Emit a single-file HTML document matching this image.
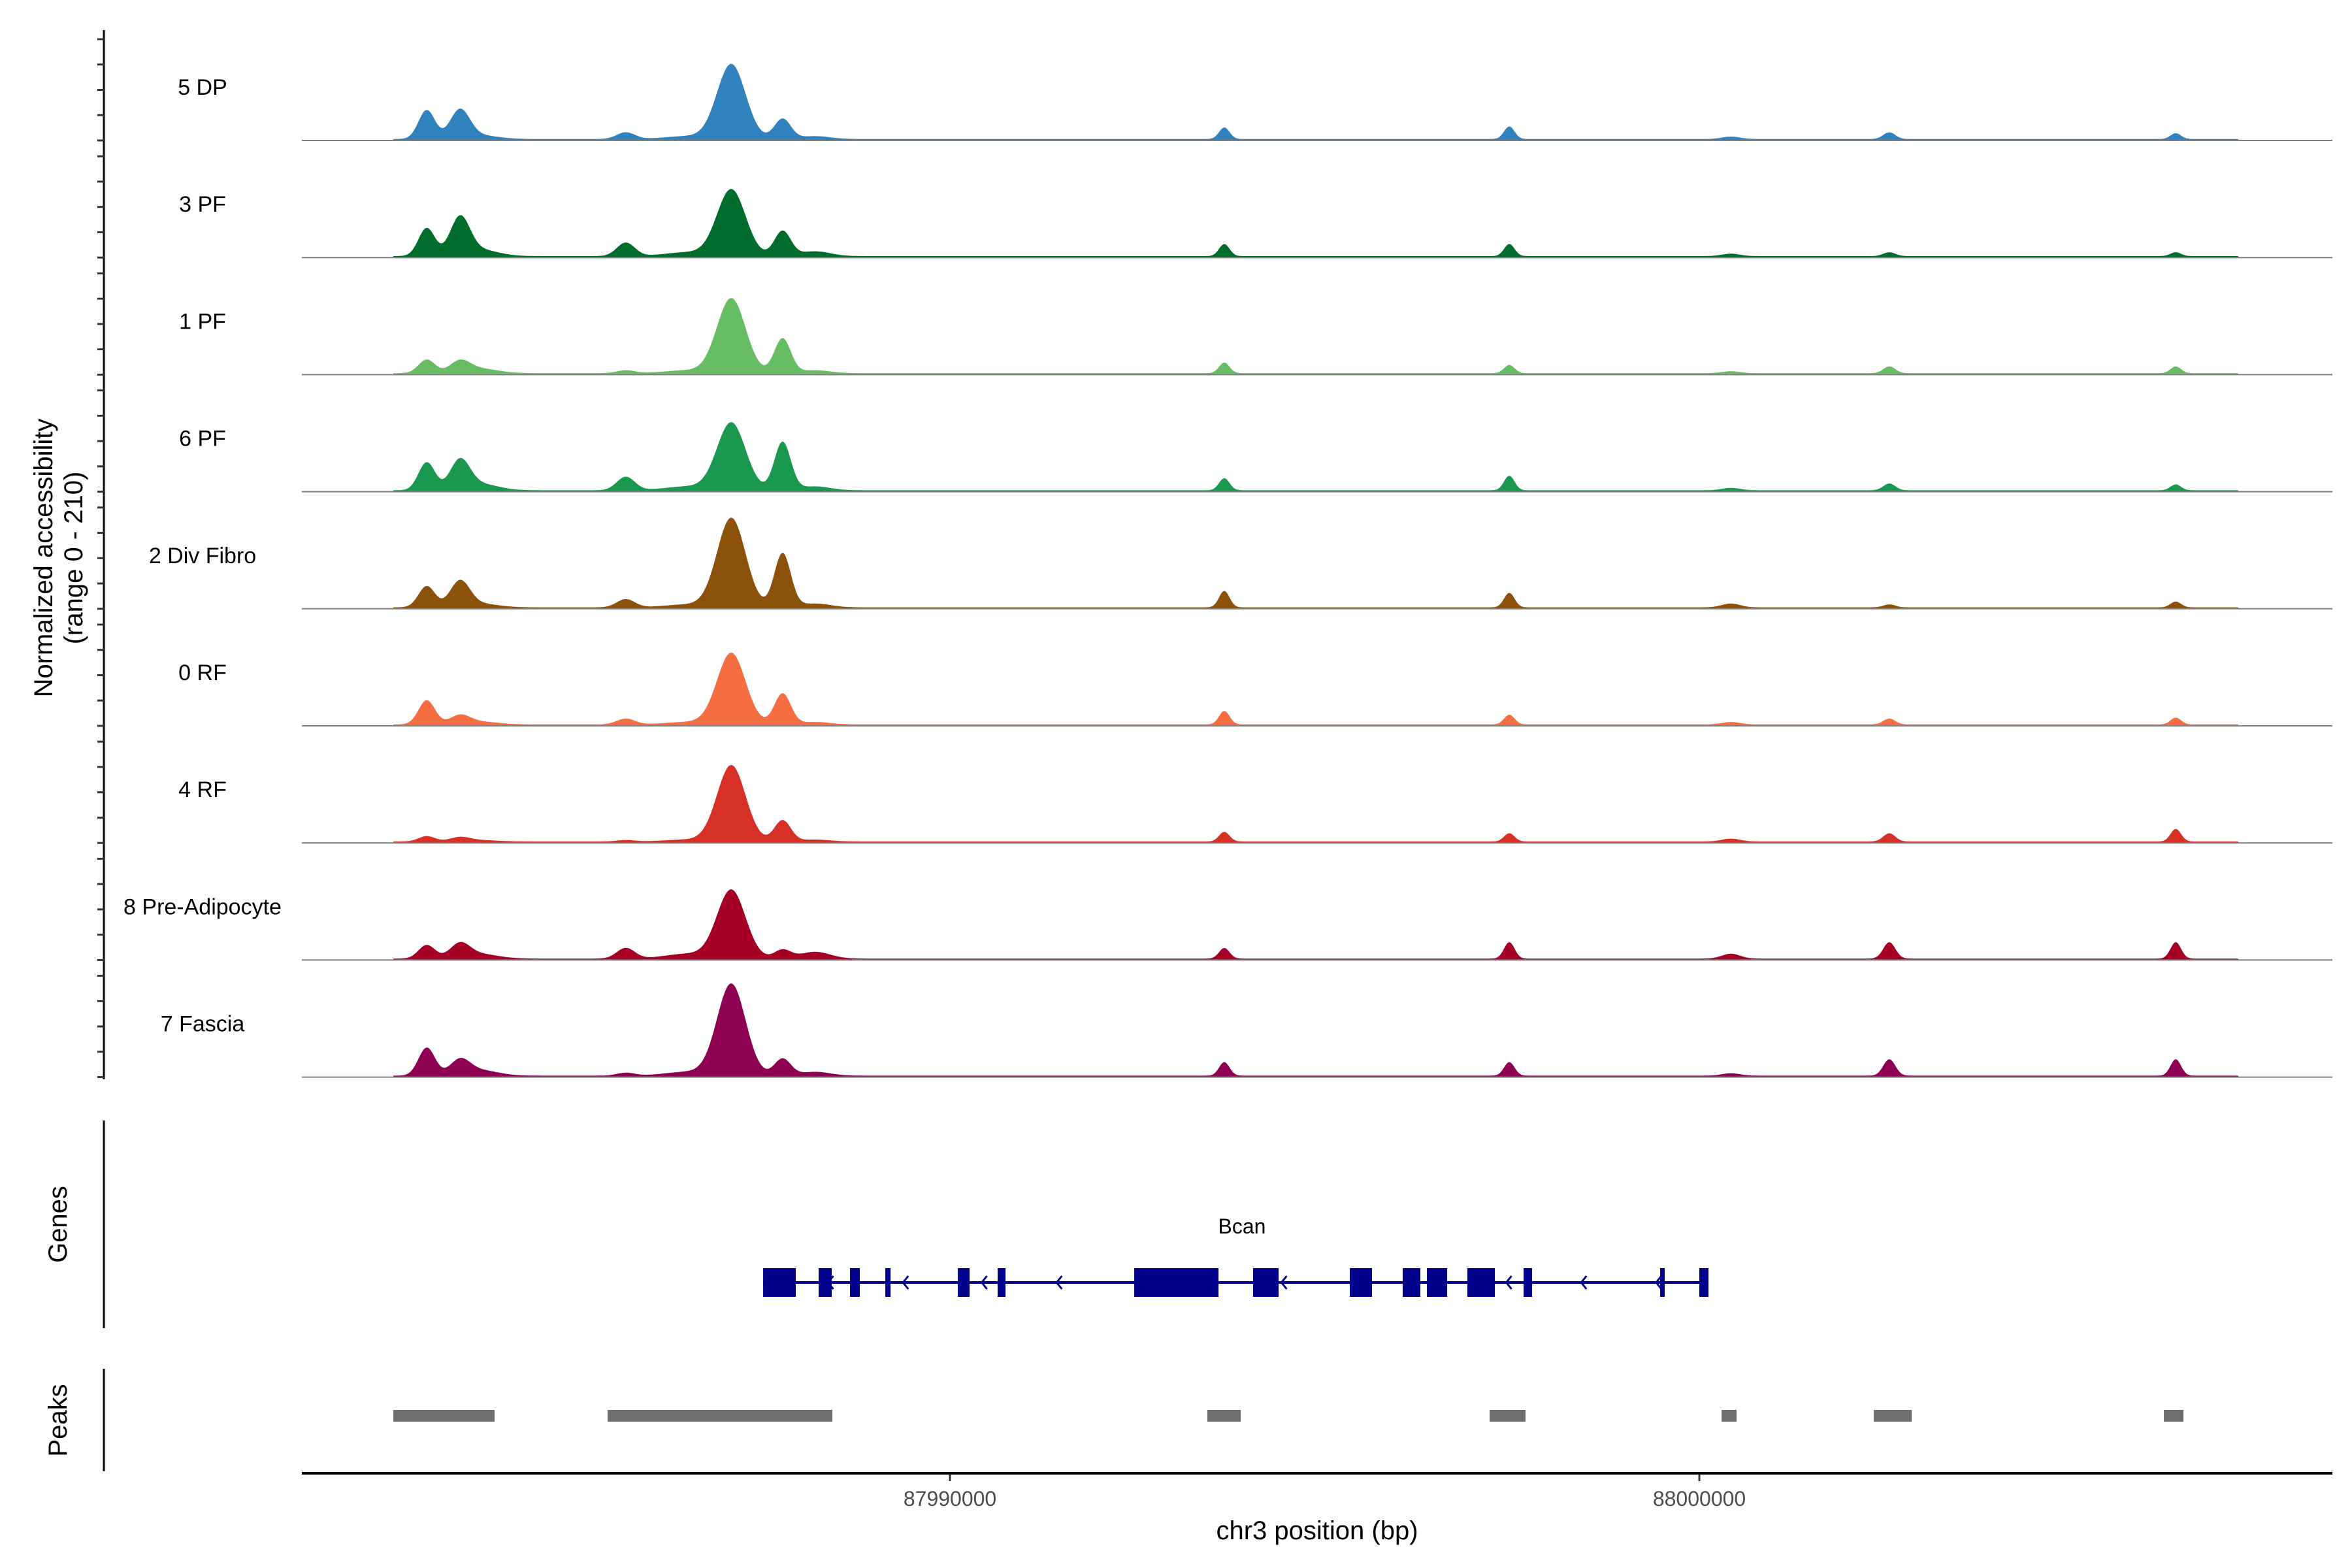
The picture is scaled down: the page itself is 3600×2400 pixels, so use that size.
<!DOCTYPE html>
<html><head><meta charset="utf-8"><style>
html,body{margin:0;padding:0;background:#fff}
svg{display:block}
text{font-family:"Liberation Sans",sans-serif}
</style></head><body>
<svg id="c" width="3600" height="2400" viewBox="0 0 3600 2400" xmlns="http://www.w3.org/2000/svg"></svg>
<script>
const trackNames=["5 DP","3 PF","1 PF","6 PF","2 Div Fibro","0 RF","4 RF","8 Pre-Adipocyte","7 Fascia"];
const trackColors=["#3182bd","#006d2c","#66bd63","#1a9850","#8c510a","#f46d43","#d73027","#a50026","#8e0152"];
const peakCenters=[87983018,87983461,87985674,87987082,87987766,87993661,87997464,88000422,88002535,88006358,87983700,87986500,87988200];
const peakSigmas=[110,130,120,190,110,70,70,120,80,70,250,300,200];
const hDP=[60,58,14,155,42,24,26,5,14,12,8,6,6];
const h3PF=[58,76,28,138,52,25,25,5,8,8,14,8,10];
const h1PF=[28,22,6,155,72,22,17,4,14,14,10,6,6];
const h6PF=[58,58,28,140,100,25,30,5,14,12,14,8,8];
const hDiv=[44,52,17,185,112,34,30,8,6,12,8,6,8];
const h0RF=[50,17,12,148,64,28,20,5,12,14,6,5,5];
const h4RF=[11,8,3,158,44,20,17,6,17,26,3,4,4];
const hPre=[28,28,22,142,18,22,34,10,34,34,10,10,14];
const hFascia=[58,29,6,190,35,28,28,5,34,34,12,8,8];
const trackHeights=[hDP,h3PF,h1PF,h6PF,hDiv,h0RF,h4RF,hPre,hFascia];
const signalStart=87982572, signalEnd=88007201, baseLevel=3;
const exonStarts=[87987507,87988248,87988666,87989137,87990105,87990636,87992459,87994045,87995336,87996042,87996364,87996905,87997655,87999477,88000000];
const exonEnds=[87987942,87988422,87988797,87989207,87990262,87990741,87993583,87994385,87995632,87996277,87996635,87997271,87997768,87999538,88000122];
const arrowPos=[87988400,87989400,87990450,87991450,87994450,87997450,87998450,87999450];
const peakStarts=[87982572,87985432,87993435,87997201,88000297,88002328,88006199];
const peakEnds=[87983923,87988431,87993880,87997681,88000497,88002834,88006460];
const xTicks=[87990000,88000000];
const yMax=210;

const NS="http://www.w3.org/2000/svg";
const svg=document.getElementById('c');
function mk(tag,attrs,parent){const e=document.createElementNS(NS,tag);for(const k in attrs)e.setAttribute(k,attrs[k]);(parent||svg).appendChild(e);return e;}
const X0=462,X1=3570,bp0=87981351,bp1=88008448;
const xs=b=>X0+(b-bp0)/(bp1-bp0)*(X1-X0);
const base0=215,step=179.2,panelH=155;

let ax=mk('line',{x1:159,y1:46,x2:159,y2:1652,stroke:'#000','stroke-width':3});


for(let t=0;t<trackNames.length;t++){
  const by=base0+t*step;
  for(let k=0;k<5;k++){
    const tk=mk('line',{x1:149,x2:159,y1:by-k*panelH/4,y2:by-k*panelH/4,stroke:'#333','stroke-width':3});
    
    
  }
  const hs=trackHeights[t];
  let d='M'+xs(signalStart)+','+by;
  for(let b=signalStart;b<=signalEnd;b+=15){
    let v=baseLevel;
    for(let i=0;i<peakCenters.length;i++){const z=(b-peakCenters[i])/peakSigmas[i];if(Math.abs(z)<5)v+=hs[i]*Math.exp(-0.5*z*z);}
    if(v>yMax)v=yMax;
    d+='L'+xs(b).toFixed(1)+','+(by-v/yMax*panelH).toFixed(1);
  }
  d+='L'+xs(signalEnd)+','+by+'Z';
  const p=mk('path',{d:d,fill:trackColors[t]});
  
  
  const bl=mk('line',{x1:X0,x2:X1,y1:by,y2:by,stroke:'#7f7f7f','stroke-width':2});
  
  
  const lb=mk('text',{x:310,y:by-70,'font-size':34,'text-anchor':'middle',fill:'#000'});
  lb.textContent=trackNames[t];
  
  
}
const yt=mk('text',{transform:'translate(80,854) rotate(-90)','font-size':40,'text-anchor':'middle'});
yt.textContent='Normalized accessibility';


const yt2=mk('text',{transform:'translate(126,854) rotate(-90)','font-size':40,'text-anchor':'middle'});
yt2.textContent='(range 0 - 210)';



const ga=mk('line',{x1:159,y1:1715,x2:159,y2:2033,stroke:'#000','stroke-width':3});


const gt=mk('text',{transform:'translate(102,1874) rotate(-90)','font-size':40,'text-anchor':'middle'});
gt.textContent='Genes';


const gl=mk('line',{x1:xs(exonStarts[0]),x2:xs(exonEnds[exonEnds.length-1]),y1:1963,y2:1963,stroke:'#00008b','stroke-width':4});


for(let i=0;i<exonStarts.length;i++){
  const x=xs(exonStarts[i]),w=Math.max(6,xs(exonEnds[i])-x);
  const r=mk('rect',{x:x,y:1941,width:w,height:44,fill:'#00008b'});
  
  
}
for(const a of arrowPos){
  const x=xs(a);
  const ar=mk('path',{d:`M${x+5},${1953}L${x-3},${1963}L${x+5},${1973}`,fill:'none',stroke:'#00008b','stroke-width':3});
  
  
}
const gn=mk('text',{x:1901,y:1888,'font-size':32,'text-anchor':'middle'});
gn.textContent='Bcan';



const pa=mk('line',{x1:159,y1:2095,x2:159,y2:2252,stroke:'#000','stroke-width':3});


const pt=mk('text',{transform:'translate(102,2174) rotate(-90)','font-size':40,'text-anchor':'middle'});
pt.textContent='Peaks';


for(let i=0;i<peakStarts.length;i++){
  const r=mk('rect',{x:xs(peakStarts[i]),y:2158,width:xs(peakEnds[i])-xs(peakStarts[i]),height:18,fill:'#6e6e6e'});
  
  
}

const xa=mk('line',{x1:X0,x2:X1,y1:2255,y2:2255,stroke:'#000','stroke-width':4});


for(const t of xTicks){
  const x=xs(t);
  const tk=mk('line',{x1:x,x2:x,y1:2257,y2:2267,stroke:'#333','stroke-width':3});
  
  
  const tl=mk('text',{x:x,y:2305,'font-size':32,'text-anchor':'middle',fill:'#4d4d4d'});
  tl.textContent=String(t);
  
  
}
const xt=mk('text',{x:2016,y:2356,'font-size':40,'text-anchor':'middle'});
xt.textContent='chr3 position (bp)';


</script>
</body></html>
